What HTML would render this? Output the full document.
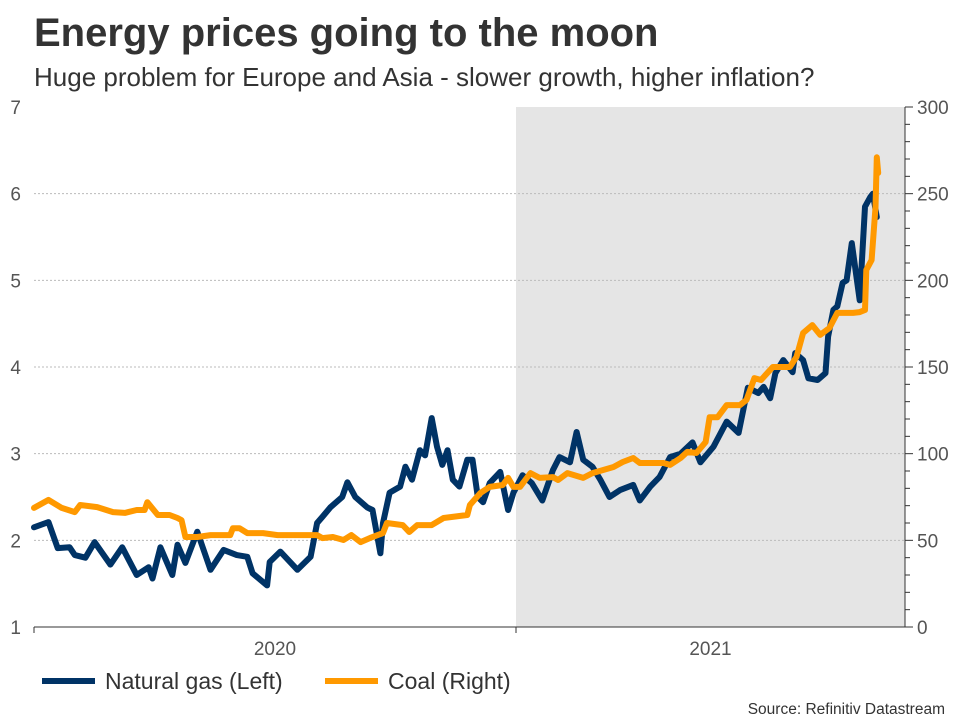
<!DOCTYPE html>
<html><head><meta charset="utf-8"><style>
body{margin:0;background:#fff;font-family:"Liberation Sans",Arial,sans-serif;}
svg text{font-family:"Liberation Sans",Arial,sans-serif;}
</style></head><body>
<svg width="960" height="720" viewBox="0 0 960 720">
<text x="34" y="46" font-size="40" font-weight="bold" fill="#333">Energy prices going to the moon</text>
<text x="34" y="86" font-size="26" fill="#333">Huge problem for Europe and Asia - slower growth, higher inflation?</text>
<rect x="516" y="107" width="389" height="520" fill="#e5e5e5"/>
<g id="grid"></g><g id="axes"></g><g id="series"></g>
<g>
<line x1="42" y1="681" x2="95" y2="681" stroke="#003366" stroke-width="6"/>
<text x="105" y="689" font-size="23" fill="#333">Natural gas (Left)</text>
<line x1="325" y1="681" x2="378" y2="681" stroke="#ff9900" stroke-width="6"/>
<text x="388" y="689" font-size="23" fill="#333">Coal (Right)</text>
</g>
<text x="945" y="714" font-size="15.5" fill="#333" text-anchor="end">Source: Refinitiv Datastream</text>
</svg>
<script>
const leftTicks=[1,2,3,4,5,6,7];
const rightTicks=[0,50,100,150,200,250,300];
const yearLabels=["2020","2021"];
const gasDays=[0,11,18,27,31,39,46,58,67,78,87,90,96,105,109,115,124,134,144,154,162,166,177,179,187,200,210,215,219,225,234,238,244,253,257,263,265,270,278,282,287,293,297,302,306,310,314,318,323,329,333,337,341,346,354,360,364,371,378,386,394,399,407,412,417,424,430,437,445,455,460,468,475,483,491,500,506,516,526,535,542,550,554,559,563,569,576,578,584,588,595,601,603,607,610,614,617,621,627,631,635,637,640];
const gasValues=[2.15,2.21,1.91,1.92,1.83,1.80,1.98,1.72,1.92,1.60,1.69,1.56,1.92,1.60,1.95,1.74,2.10,1.66,1.89,1.83,1.81,1.62,1.48,1.75,1.87,1.66,1.81,2.20,2.27,2.38,2.50,2.67,2.50,2.38,2.35,1.85,2.20,2.55,2.62,2.85,2.70,3.04,2.98,3.41,3.08,2.87,3.04,2.70,2.62,2.93,2.93,2.50,2.44,2.66,2.79,2.35,2.55,2.75,2.66,2.46,2.81,2.96,2.90,3.25,2.93,2.85,2.70,2.50,2.58,2.64,2.46,2.62,2.73,2.96,3.00,3.13,2.90,3.08,3.37,3.24,3.76,3.70,3.77,3.64,3.93,4.08,3.94,4.16,4.08,3.87,3.85,3.93,4.35,4.66,4.70,4.97,5.00,5.43,4.77,5.85,5.96,6.00,5.73];
const coalDays=[0,11,21,31,35,48,60,69,78,84,86,94,103,109,112,115,124,134,149,151,156,162,174,185,207,215,219,227,235,241,248,255,265,268,280,285,291,302,311,329,331,339,346,356,360,364,369,377,384,394,398,405,417,424,440,447,455,460,468,478,483,491,496,503,510,513,519,526,536,541,547,552,561,574,579,584,591,597,604,610,622,627,631,632,636,639,640,641];
const coalValues=[68.7,73.3,68.7,66.3,70.4,69.2,66.3,65.8,67.5,67.5,72,64.6,64.6,62.9,61.7,51.9,51.9,53,53,57,57,54.2,54.2,53,53,53,51.3,51.9,50.2,53,49,51.3,54.2,60,58.8,54.8,58.8,58.8,62.9,64.6,70.4,77.3,80.8,81.9,86,80.8,80.8,88.8,86,86.5,84.8,88.8,86,88.8,92.3,95.2,97.5,94.6,94.6,94.6,93.5,97.5,101,100.4,106.7,121,121,128,128,131,143.6,142.5,150,150,155.8,169.6,174.2,168.5,172.5,181.2,181.2,181.7,182.9,206,211.7,242,271,262];
const NS="http://www.w3.org/2000/svg";
const X0=34,X1=905,Y0=627,Y1=107;
const xDay=d=>X0+d*482/366;
const yL=v=>Y0-(v-1)/6*(Y0-Y1);
const yR=v=>Y0-v/300*(Y0-Y1);
function mk(tag,attrs,parent){const e=document.createElementNS(NS,tag);for(const k in attrs)e.setAttribute(k,attrs[k]);document.getElementById(parent).appendChild(e);return e;}
leftTicks.forEach(v=>{
  if(v>1&&v<7){const g=mk('line',{x1:X0,x2:X1,y1:yL(v),y2:yL(v),stroke:'#bbb','stroke-dasharray':'2,2','stroke-width':1},'grid');
  
  }
  const t=mk('text',{x:21,y:yL(v)+7,'font-size':19,fill:'#555','text-anchor':'end'},'axes');t.textContent=v;
  
  
});
rightTicks.forEach(v=>{
  const t=mk('text',{x:917,y:yR(v)+7,'font-size':19,fill:'#555'},'axes');t.textContent=v;
  
  
});
for(let v=0;v<=300;v+=10){
  const tk=mk('line',{x1:X1,x2:X1+(v%50===0?8:5),y1:yR(v),y2:yR(v),stroke:'#333','stroke-width':1},'axes');
  
  
}
const ra=mk('line',{x1:X1,x2:X1,y1:Y1,y2:Y0,stroke:'#333','stroke-width':1},'axes');


const xa=mk('line',{x1:X0,x2:X1,y1:Y0,y2:Y0,stroke:'#333','stroke-width':1},'axes');


[0,366].forEach(d=>{const tk=mk('line',{x1:xDay(d),x2:xDay(d),y1:Y0,y2:Y0+6,stroke:'#333'},'axes');
  
  });
yearLabels.forEach((l,i)=>{
  const a=xDay(i*366), b=Math.min(X1, xDay((i+1)*366));
  const t=mk('text',{x:(a+b)/2,y:655,'font-size':19,fill:'#555','text-anchor':'middle'},'axes');t.textContent=l;
  
  });
function path(days,vals,yf){return days.map((d,i)=>(i?'L':'M')+xDay(d).toFixed(1)+','+yf(vals[i]).toFixed(1)).join('');}
const gp=mk('path',{d:path(gasDays,gasValues,yL),fill:'none',stroke:'#003366','stroke-width':6,'stroke-linejoin':'round','stroke-linecap':'round'},'series');


const cp=mk('path',{d:path(coalDays,coalValues,yR),fill:'none',stroke:'#ff9900','stroke-width':6,'stroke-linejoin':'round','stroke-linecap':'round'},'series');


</script>
</body></html>
